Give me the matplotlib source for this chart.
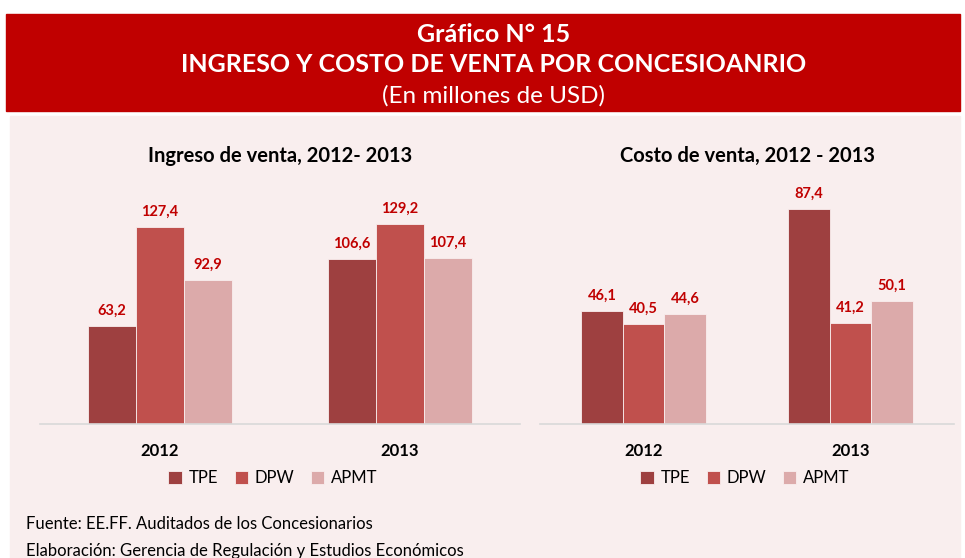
import matplotlib.pyplot as plt
from matplotlib.patches import Rectangle
import numpy as np

plt.rcParams['font.family'] = ['Lato', 'DejaVu Sans']

anios = ['2012', '2013']
empresas = ['TPE', 'DPW', 'APMT']
ingreso = {'TPE': [63.2, 106.6], 'DPW': [127.4, 129.2], 'APMT': [92.9, 107.4]}
costo = {'TPE': [46.1, 87.4], 'DPW': [40.5, 41.2], 'APMT': [44.6, 50.1]}

colores = ['#9E4040', '#C0504D', '#DCAAAA']
rojo = '#C00000'
fondo = '#F9EEEE'

W, H = 965, 558
fig = plt.figure(figsize=(W / 100, H / 100), dpi=100)

# Cabecera roja y panel de fondo (detrás de los ejes)
fig.patches.append(Rectangle((6 / W, 1 - 111 / H), 954 / W, 97 / H,
                             transform=fig.transFigure, color=rojo, zorder=-2))
fig.patches.append(Rectangle((10 / W, 0), 950 / W, 1 - 116 / H,
                             transform=fig.transFigure, color=fondo, zorder=-2))

xc = 494 / W
fig.text(xc, 1 - 34 / H, 'Gráfico N° 15', ha='center', va='center',
         color='white', fontsize=18, fontweight='bold')
fig.text(xc, 1 - 64 / H, 'INGRESO Y COSTO DE VENTA POR CONCESIOANRIO', ha='center',
         va='center', color='white', fontsize=18, fontweight='bold')
fig.text(xc, 1 - 96 / H, '(En millones de USD)', ha='center', va='center',
         color='white', fontsize=17.5)


def grafico(rect, datos, titulo, ymax, leg_x):
    ax = fig.add_axes(rect)
    ax.set_facecolor('none')
    x = np.arange(len(anios))
    w = 0.2
    handles = []
    for k, emp in enumerate(empresas):
        b = ax.bar(x + (k - 1) * w, datos[emp], w, color=colores[k], label=emp,
                   edgecolor=fondo, linewidth=0.6)
        handles.append(b)
        for xi, v in zip(x + (k - 1) * w, datos[emp]):
            ax.text(xi, v + ymax * 0.035, f'{v:.1f}'.replace('.', ','), ha='center',
                    va='bottom', color=rojo, fontsize=10.5, fontweight='bold')
    ax.set_xlim(-0.5, 1.5)
    ax.set_ylim(0, ymax)
    ax.set_xticks(x)
    ax.set_xticklabels(anios, fontweight='bold', fontsize=12)
    ax.tick_params(axis='x', length=0, pad=14)
    ax.set_yticks([])
    for s in ['top', 'right', 'left']:
        ax.spines[s].set_visible(False)
    ax.spines['bottom'].set_color('#D9D9D9')
    ax.spines['bottom'].set_linewidth(1.2)
    ax.set_title(titulo, fontsize=14.5, fontweight='bold', pad=20)
    fig.legend(handles=handles, labels=empresas, loc='center',
               bbox_to_anchor=(leg_x / W, 1 - 478 / H), ncol=3, frameon=False,
               fontsize=12, handlelength=0.8, handleheight=0.8,
               columnspacing=1.0, handletextpad=0.4)
    return ax


alto = (424 - 190) / H
grafico([40 / W, 1 - 424 / H, 480 / W, alto], ingreso,
        'Ingreso de venta, 2012- 2013', 234 / 1.547, 273)
grafico([540 / W, 1 - 424 / H, 414 / W, alto], costo,
        'Costo de venta, 2012 - 2013', 234 / 2.46, 745)

fig.text(26 / W, 1 - 524 / H, 'Fuente: EE.FF. Auditados de los Concesionarios',
         fontsize=12, va='center')
fig.text(26 / W, 1 - 551 / H, 'Elaboración: Gerencia de Regulación y Estudios Económicos',
         fontsize=12, va='center')

fig.savefig('out.png', dpi=100)
